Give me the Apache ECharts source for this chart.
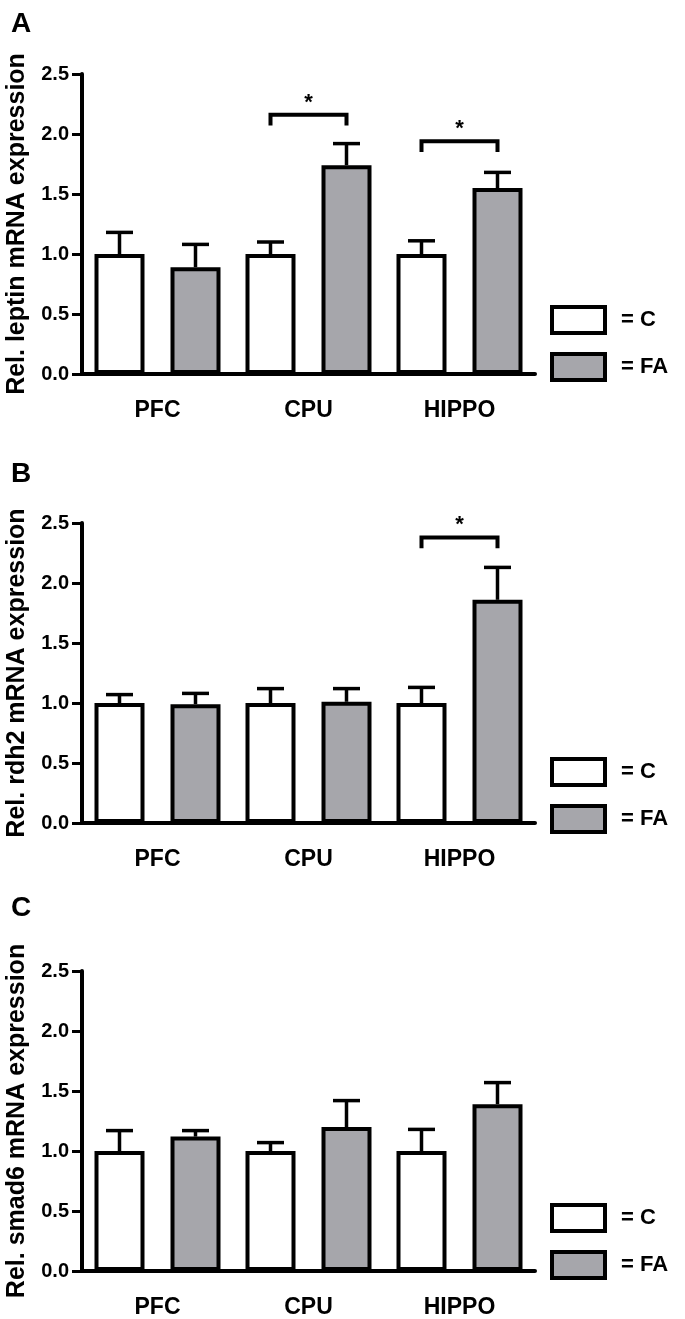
<!DOCTYPE html>
<html>
<head>
<meta charset="utf-8">
<script src="https://cdn.jsdelivr.net/npm/echarts@6/dist/echarts.min.js"></script>
<style>
  html, body { margin: 0; padding: 0; background: #fff; }
  #chart { width: 685px; height: 1319px; }
</style>
</head>
<body>
<div id="chart"></div>
<script>
// ---------------- data ----------------
const categories = ['PFC', 'CPU', 'HIPPO'];
const panelLetters = ['A', 'B', 'C'];
const yTitles = ['Rel. leptin mRNA expression', 'Rel. rdh2 mRNA expression', 'Rel. smad6 mRNA expression'];
const yTickLabels = ['0.0', '0.5', '1.0', '1.5', '2.0', '2.5'];
const groupNames = ['C', 'FA'];

// Panel A: leptin
const leptinC = [1.00, 1.00, 1.00];
const leptinFA = [0.89, 1.74, 1.55];
const leptinCTop = [1.18, 1.10, 1.11];   // mean + error
const leptinFATop = [1.08, 1.92, 1.68];
// Panel B: rdh2
const rdh2C = [1.00, 1.00, 1.00];
const rdh2FA = [0.99, 1.01, 1.86];
const rdh2CTop = [1.07, 1.12, 1.13];
const rdh2FATop = [1.08, 1.12, 2.13];
// Panel C: smad6
const smad6C = [1.00, 1.00, 1.00];
const smad6FA = [1.12, 1.20, 1.39];
const smad6CTop = [1.17, 1.07, 1.18];
const smad6FATop = [1.17, 1.42, 1.57];
// significance brackets: [category index, bracket top, leg bottom]
const leptinSig = [[1, 2.16, 2.07], [2, 1.94, 1.85]];
const rdh2Sig = [[2, 2.38, 2.29]];
const smad6Sig = [];

// ---------------- layout / style ----------------
const FONT = '"Liberation Sans", Arial, Helvetica, sans-serif';
const GRAY = '#a6a6ab';
const BAR_W = 50;
const BAR_GAP = 0.52;
const OFFSET = (BAR_W + BAR_W * BAR_GAP) / 2;
const CAP = 27;
const panelTops = [74, 523, 971];
const panelH = 300;
const legendTops = [305, 757, 1203];
const letterTops = [10, 460, 894];

const panels = [
  { c: leptinC, fa: leptinFA, cTop: leptinCTop, faTop: leptinFATop, sig: leptinSig },
  { c: rdh2C, fa: rdh2FA, cTop: rdh2CTop, faTop: rdh2FATop, sig: rdh2Sig },
  { c: smad6C, fa: smad6FA, cTop: smad6CTop, faTop: smad6FATop, sig: smad6Sig }
];

function errRender(sign) {
  return function (params, api) {
    const cat = api.value(0);
    const base = api.coord([cat, api.value(1)]);
    const top = api.coord([cat, api.value(2)]);
    const x = base[0] + sign * OFFSET;
    const st = { stroke: '#000', lineWidth: 3.5 };
    return {
      type: 'group',
      children: [
        { type: 'line', shape: { x1: x, y1: base[1], x2: x, y2: top[1] }, style: st },
        { type: 'line', shape: { x1: x - CAP / 2, y1: top[1], x2: x + CAP / 2, y2: top[1] }, style: st }
      ]
    };
  };
}

function sigRender(params, api) {
  const cat = api.value(0);
  const top = api.coord([cat, api.value(1)]);
  const leg = api.coord([cat, api.value(2)]);
  const xC = top[0] - OFFSET;
  const xF = top[0] + OFFSET;
  return {
    type: 'group',
    children: [
      {
        type: 'polyline',
        shape: { points: [[xC, leg[1]], [xC, top[1]], [xF, top[1]], [xF, leg[1]]] },
        style: { stroke: '#000', lineWidth: 4, fill: null, lineJoin: 'miter' }
      },
      {
        type: 'text',
        x: top[0], y: top[1] - 12,
        style: { text: '*', fontSize: 22, fontWeight: 'bold', fontFamily: FONT, fill: '#000', align: 'center', verticalAlign: 'middle' }
      }
    ]
  };
}

const grids = [], xAxes = [], yAxes = [], series = [], legends = [], titles = [];

panels.forEach((p, i) => {
  grids.push({ left: 82, width: 453, top: panelTops[i], height: panelH, containLabel: false, outerBoundsMode: 'none' });
  xAxes.push({
    type: 'category', gridIndex: i, data: categories,
    axisLine: { show: true, lineStyle: { color: '#000', width: 4 } },
    axisTick: { show: false },
    splitLine: { show: false },
    axisLabel: { color: '#000', fontFamily: FONT, fontWeight: 'bold', fontSize: 23, margin: 25 }
  });
  yAxes.push({
    type: 'value', gridIndex: i, min: 0, max: 2.5, interval: 0.5,
    name: yTitles[i], nameLocation: 'middle', nameGap: 52,
    nameTextStyle: { color: '#000', fontFamily: FONT, fontWeight: 'bold', fontSize: 25 },
    axisLine: { show: true, lineStyle: { color: '#000', width: 4 } },
    axisTick: { show: true, length: 10, lineStyle: { color: '#000', width: 3 } },
    splitLine: { show: false },
    axisLabel: {
      color: '#000', fontFamily: FONT, fontWeight: 'bold', fontSize: 20, margin: 13,
      formatter: v => yTickLabels[Math.round(v / 0.5)]
    }
  });
  series.push({
    type: 'bar', name: groupNames[0], xAxisIndex: i, yAxisIndex: i, data: p.c,
    barWidth: BAR_W, barGap: (BAR_GAP * 100) + '%',
    itemStyle: { color: '#ffffff', borderColor: '#000', borderWidth: 4 },
    emphasis: { disabled: true }, z: 3
  });
  series.push({
    type: 'bar', name: groupNames[1], xAxisIndex: i, yAxisIndex: i, data: p.fa,
    barWidth: BAR_W, barGap: (BAR_GAP * 100) + '%',
    itemStyle: { color: GRAY, borderColor: '#000', borderWidth: 4 },
    emphasis: { disabled: true }, z: 3
  });
  series.push({
    type: 'custom', xAxisIndex: i, yAxisIndex: i, renderItem: errRender(-1),
    data: p.c.map((v, k) => [k, v, p.cTop[k]]), encode: { x: 0, y: [1, 2] }, z: 2, silent: true
  });
  series.push({
    type: 'custom', xAxisIndex: i, yAxisIndex: i, renderItem: errRender(1),
    data: p.fa.map((v, k) => [k, v, p.faTop[k]]), encode: { x: 0, y: [1, 2] }, z: 2, silent: true
  });
  if (p.sig.length) {
    series.push({
      type: 'custom', xAxisIndex: i, yAxisIndex: i, renderItem: sigRender,
      data: p.sig, encode: { x: 0, y: [1, 2] }, z: 4, silent: true, clip: false
    });
  }
  legends.push({
    left: 550, top: legendTops[i], orient: 'vertical', padding: 0,
    itemWidth: 53, itemHeight: 26, itemGap: 17, icon: 'rect', selectedMode: false,
    data: groupNames,
    itemStyle: { borderColor: '#000', borderWidth: 4 },
    formatter: n => '= ' + n,
    textStyle: { color: '#000', fontFamily: FONT, fontWeight: 'bold', fontSize: 22, padding: [0, 0, 0, 11] }
  });
  titles.push({
    text: panelLetters[i], left: 11, top: letterTops[i], padding: 0,
    textStyle: { color: '#000', fontFamily: FONT, fontWeight: 'bold', fontSize: 28 }
  });
});

const chart = echarts.init(document.getElementById('chart'), null, { renderer: 'canvas' });
chart.setOption({
  backgroundColor: '#ffffff',
  animation: false,
  textStyle: { fontFamily: FONT },
  title: titles,
  legend: legends,
  grid: grids,
  xAxis: xAxes,
  yAxis: yAxes,
  series: series
});
</script>
</body>
</html>
